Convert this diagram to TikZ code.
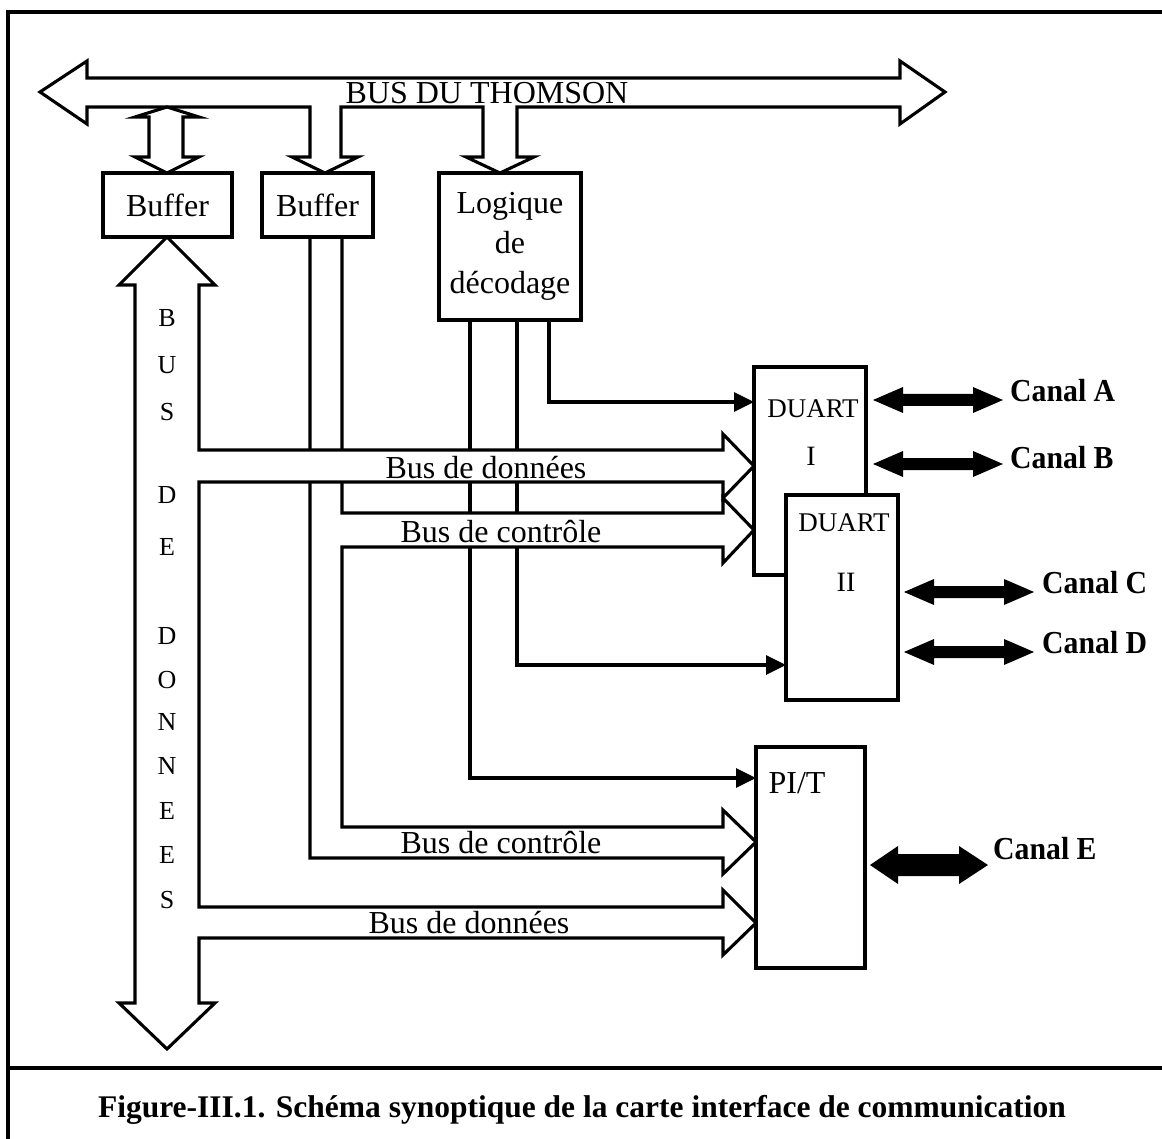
\documentclass[tikz,border=0pt]{standalone}
\usepackage{fontspec}
\setmainfont{Liberation Serif}
\usetikzlibrary{arrows.meta}
\newcommand\chanlabel[1]{\scalebox{0.93}[1]{\bfseries #1}}
\begin{document}
\begin{tikzpicture}[x=1pt,y=-1pt,
  ln/.style={line width=3.1pt, line join=miter},
  pipe/.style={ln, fill=white},
  blk/.style={draw, line width=3.1pt, fill=white, inner sep=0pt, font=\fontsize{32}{40}\selectfont},
  txt/.style={inner sep=0pt, font=\fontsize{32}{40}\selectfont},
  chip/.style={inner sep=0pt, font=\fontsize{27}{30}\selectfont},
  vlet/.style={inner sep=0pt, font=\fontsize{26}{30}\selectfont},
  sig/.style={ln, -{Triangle[length=20pt,width=19pt]}},
  captionstyle/.style={inner sep=0pt, font=\bfseries\fontsize{31.5}{36}\selectfont}
]
\useasboundingbox (0,0) rectangle (1162,1139);

% outer frame and caption rule
\draw[ln] (1162,12) -- (8,12) -- (8,1139);
\draw[ln] (8,1068) -- (1162,1068);

% tap points under the decoding logic and inputs of the chips
\coordinate (tapA) at (549,320);
\coordinate (tapB) at (517,320);
\coordinate (tapC) at (470,320);
\coordinate (inA) at (754,402);
\coordinate (inB) at (786,665);
\coordinate (inC) at (756,778);

% select lines from the decoding logic
\draw[sig] (tapA) |- (inA);
\draw[sig] (tapB) |- (inB);
\draw[sig] (tapC) |- (inC);

% control bus from the second buffer
\draw[pipe] (310,237) -- (310,858) -- (723,858) -- (723,874) -- (756,842)
  -- (723,810) -- (723,827) -- (342,827) -- (342,547) -- (723,547)
  -- (723,563) -- (754,530) -- (723,498) -- (723,513) -- (342,513) -- (342,237);

% data bus with its two branches
\draw[pipe] (167,237) -- (119,285) -- (135,285) -- (135,1003) -- (119,1003)
  -- (167,1049) -- (215,1003) -- (199,1003) -- (199,938) -- (723,938)
  -- (723,955) -- (756,923) -- (723,890) -- (723,907) -- (199,907)
  -- (199,482) -- (723,482) -- (723,498) -- (754,466) -- (723,434)
  -- (723,450) -- (199,450) -- (199,285) -- (215,285) -- cycle;

% host bus with the two feeds
\draw[pipe] (310,107) -- (87,107) -- (87,124) -- (40,92) -- (87,61) -- (87,78)
  -- (900,78) -- (900,61) -- (945,92) -- (900,124) -- (900,107) -- (517,107)
  -- (517,157) -- (534,157) -- (500,173) -- (466,157) -- (483,157) -- (483,107)
  -- (341,107) -- (341,157) -- (358,157) -- (325,173) -- (292,157) -- (310,157) -- cycle;

% bidirectional link between host bus and first buffer
\draw[pipe] (167,107) -- (199,117) -- (183,117) -- (183,157) -- (199,157)
  -- (167,173) -- (135,157) -- (149,157) -- (149,117) -- (135,117) -- cycle;

% blocks
\node[blk, minimum width=129pt, minimum height=64pt] (buf1) at (167.5,205) {Buffer};
\node[blk, minimum width=111pt, minimum height=64pt] (buf2) at (317.5,205) {Buffer};
\node[blk, minimum width=142pt, minimum height=147pt, align=center] (logic) at (510,246.5)
  {Logique\\de\\décodage};
\node[blk, minimum width=112pt, minimum height=208pt] (duart1) at (810,471) {};
\node[blk, minimum width=112pt, minimum height=205pt] (duart2) at (842,597.5) {};
\node[blk, minimum width=109pt, minimum height=221pt] (pit) at (810.5,857.5) {};

% block labels
\node[chip] (d1) at (813,409) {DUART};
\node[chip, font=\fontsize{28}{30}\selectfont] (d1n) at (811,456) {I};
\node[chip] (d2) at (844,523) {DUART};
\node[chip, font=\fontsize{28}{30}\selectfont] (d2n) at (846,582) {II};
\node[txt] (pt) at (797,783) {PI/T};

% bus labels
\node[txt, anchor=base] (thom) at (487,104) {BUS DU THOMSON};
\node[txt, anchor=base] (bd1) at (486,478) {Bus de données};
\node[txt, anchor=base] (bc1) at (501,542) {Bus de contrôle};
\node[txt, anchor=base] (bc2) at (501,853) {Bus de contrôle};
\node[txt, anchor=base] (bd2) at (469,933) {Bus de données};

\foreach \l/\y [count=\i] in {B/318, U/365, S/412, D/495, E/547, D/636, O/680,
    N/722, N/766, E/811, E/855, S/900}
  \node[vlet] (v\i) at (167,\y) {\l};

% serial channels
\foreach \x/\y in {873/400, 873/464, 904/592, 904/652}
  \fill (\x,\y) -- ++(30,-13) -- ++(0,7) -- ++(70,0) -- ++(0,-7) -- ++(30,13)
    -- ++(-30,13) -- ++(0,-7) -- ++(-70,0) -- ++(0,7) -- cycle;
\fill (870,865) -- ++(28,-19) -- ++(0,8) -- ++(61,0) -- ++(0,-8) -- ++(29,19)
  -- ++(-29,19) -- ++(0,-8) -- ++(-61,0) -- ++(0,8) -- cycle;

\node[txt, anchor=base west] (ca) at (1010,402) {\chanlabel{Canal A}};
\node[txt, anchor=base west] (cb) at (1010,468) {\chanlabel{Canal B}};
\node[txt, anchor=base west] (cc) at (1042,593) {\chanlabel{Canal C}};
\node[txt, anchor=base west] (cd) at (1042,653) {\chanlabel{Canal D}};
\node[txt, anchor=base west] (ce) at (993,859) {\chanlabel{Canal E}};

% caption
\node[captionstyle] (caption) at (582,1110)
  {Figure-III.1. Schéma synoptique de la carte interface de communication};
\end{tikzpicture}
\end{document}
